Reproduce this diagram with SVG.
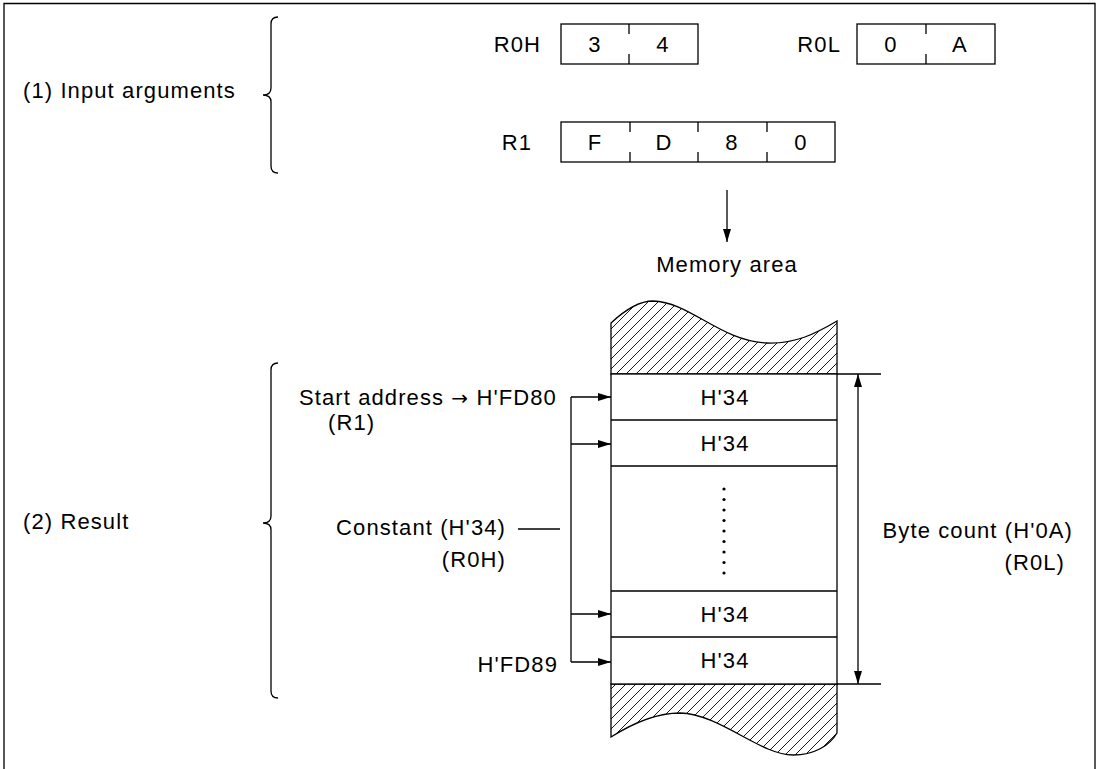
<svg xmlns="http://www.w3.org/2000/svg" width="1101" height="769" viewBox="0 0 1101 769">
<defs>
<style>
text{font-family:"Liberation Sans",Arial,sans-serif;font-size:22px;letter-spacing:1.1px;fill:#000}
.ln{stroke:#000;stroke-width:1.3;fill:none}
.box{stroke:#000;stroke-width:1.3;fill:#fff}
.c{text-anchor:middle}
.e{text-anchor:end}
.arr{font-family:"DejaVu Sans",sans-serif;font-size:20px}
</style>
<marker id="ah" viewBox="0 0 13 8" refX="13" refY="4" markerWidth="13" markerHeight="8" markerUnits="userSpaceOnUse" orient="auto-start-reverse">
<path d="M0,0 L13,4 L0,8 Z" fill="#000"/>
</marker>
<pattern id="hatch" patternUnits="userSpaceOnUse" width="10" height="10">
<path d="M0,10 L10,0 M-2,2 L2,-2 M8,12 L12,8" stroke="#000" stroke-width="0.9"/>
</pattern>
</defs>
<rect width="1101" height="769" fill="#fff"/>
<path class="ln" d="M4,775 V3.5 H1095 V775" stroke-width="1.5"/>

<g id="input-label">
<text x="23" y="98">(1) Input arguments</text>
<path class="ln" d="M278,17 Q271,17 271,24 L271,88 Q271,95 263,95 Q271,95 271,102 L271,166 Q271,173 278,173"/>
</g>

<g id="reg-r0h">
<text class="e" x="541" y="52">R0H</text>
<rect class="box" x="561" y="24" width="137" height="40"/>
<path class="ln" d="M629,24 V34 M629,54 V64"/>
<text class="c" x="595" y="52">3</text>
<text class="c" x="663" y="52">4</text>
</g>

<g id="reg-r0l">
<text class="e" x="841" y="52">R0L</text>
<rect class="box" x="857" y="24" width="138" height="40"/>
<path class="ln" d="M926,24 V34 M926,54 V64"/>
<text class="c" x="891" y="52">0</text>
<text class="c" x="960" y="52">A</text>
</g>

<g id="reg-r1">
<text class="e" x="532" y="150">R1</text>
<rect class="box" x="561" y="122" width="274" height="40"/>
<path class="ln" d="M630,122 V132 M630,152 V162 M698,122 V132 M698,152 V162 M767,122 V132 M767,152 V162"/>
<text class="c" x="595" y="150">F</text>
<text class="c" x="664" y="150">D</text>
<text class="c" x="732" y="150">8</text>
<text class="c" x="801" y="150">0</text>
</g>

<g id="memory-label">
<text class="c" x="727" y="272">Memory area</text>
</g>

<g id="result-label">
<text x="23" y="529">(2) Result</text>
<path class="ln" d="M278,363 Q271,363 271,370 L271,516 Q271,523 263,523 Q271,523 271,530 L271,691 Q271,698 278,698"/>
</g>

<g id="memory">
<path d="M611,323 C626,309 640,301 653,301 C690,302 720,341 767,343 C795,344 815,334 837,321 L837,374 L611,374 Z" fill="url(#hatch)" stroke="#000" stroke-width="1.3"/>
<path d="M611,684 L611,737 C630,725 655,713 680,713 C720,714 760,755 793,755 C815,755 830,745 837,733 L837,684 Z" fill="url(#hatch)" stroke="#000" stroke-width="1.3"/>
<rect class="box" x="611" y="374" width="226" height="310"/>
<path class="ln" d="M611,420 H837 M611,466 H837 M611,591 H837 M611,637 H837"/>
<text class="c" x="725" y="405">H'34</text>
<text class="c" x="725" y="451">H'34</text>
<text class="c" x="725" y="622">H'34</text>
<text class="c" x="725" y="668">H'34</text>
<g fill="#000">
<circle cx="724" cy="489" r="1.6"/><circle cx="724" cy="499.5" r="1.6"/><circle cx="724" cy="510" r="1.6"/>
<circle cx="724" cy="520.5" r="1.6"/><circle cx="724" cy="531" r="1.6"/><circle cx="724" cy="541.5" r="1.6"/>
<circle cx="724" cy="552" r="1.6"/><circle cx="724" cy="562.5" r="1.6"/><circle cx="724" cy="573" r="1.6"/>
</g>
</g>

<g id="address-labels">
<text x="299" y="405">Start address <tspan class="arr">→</tspan> H'FD80</text>
<text x="328" y="430">(R1)</text>
<text class="e" x="506" y="535">Constant (H'34)</text>
<text class="e" x="506" y="567">(R0H)</text>
<text class="e" x="558" y="672">H'FD89</text>
</g>

<g id="byte-count">
<text class="e" x="1073" y="538">Byte count (H'0A)</text>
<text class="e" x="1065" y="570">(R0L)</text>
</g>

<g id="connectors">
<line class="ln" x1="727" y1="190" x2="727" y2="242" marker-end="url(#ah)"/>
<path class="ln" d="M571,397 V662"/>
<line class="ln" x1="571" y1="397" x2="611" y2="397" marker-end="url(#ah)"/>
<line class="ln" x1="571" y1="444" x2="611" y2="444" marker-end="url(#ah)"/>
<line class="ln" x1="571" y1="614" x2="611" y2="614" marker-end="url(#ah)"/>
<line class="ln" x1="571" y1="662" x2="611" y2="662" marker-end="url(#ah)"/>
<line class="ln" x1="518" y1="529" x2="560" y2="529"/>
<line class="ln" x1="837" y1="374" x2="881" y2="374"/>
<line class="ln" x1="837" y1="684" x2="881" y2="684"/>
<line class="ln" x1="858" y1="374" x2="858" y2="684" marker-start="url(#ah)" marker-end="url(#ah)"/>
</g>
</svg>
